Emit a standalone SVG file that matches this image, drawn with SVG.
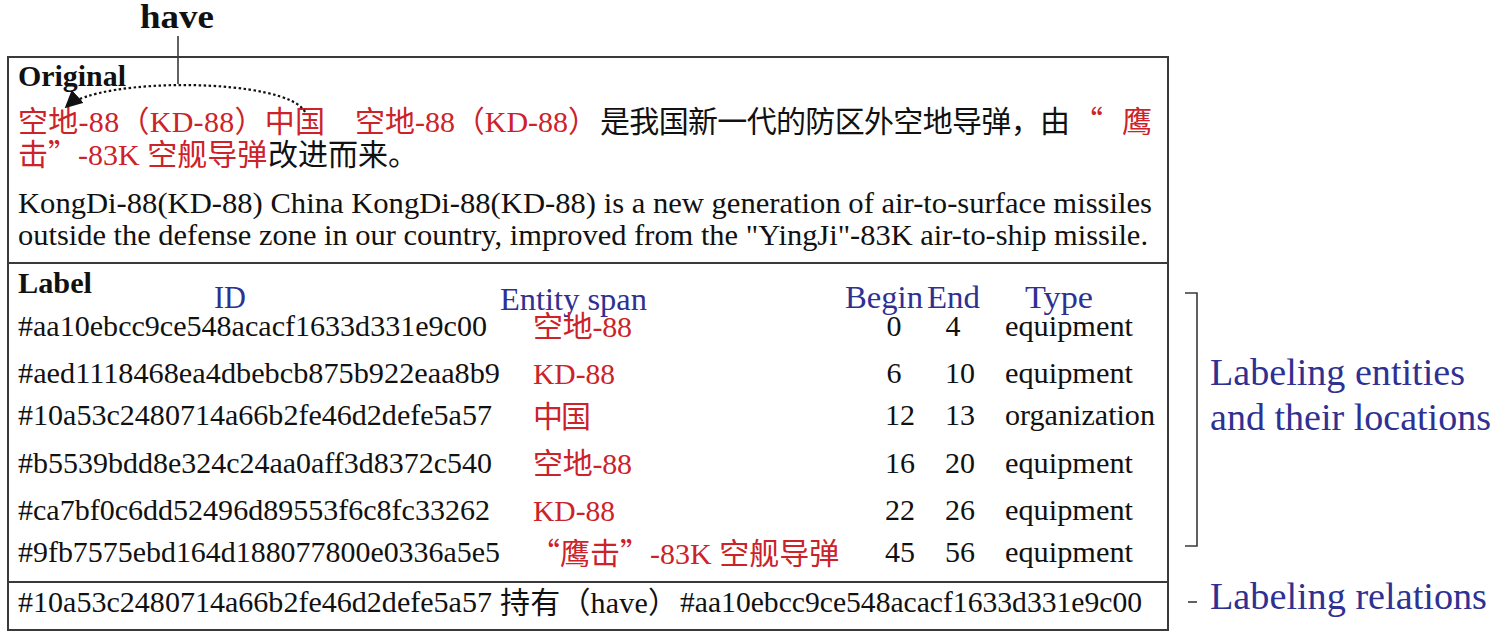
<svg xmlns="http://www.w3.org/2000/svg" width="1496" height="636" viewBox="0 0 1496 636">
<style>
.t{font-family:"Liberation Serif","Noto Sans CJK SC",serif;font-size:30px;fill:#111}
.cj{font-family:"Noto Sans CJK SC",sans-serif}
.h{font-size:32px}
.a{font-size:37px}
.hv{font-size:34px}
.b{font-weight:bold}
.r{fill:#cc2229}
.bl{fill:#2e3192}
.box{fill:#fff;stroke:#3a3a3a;stroke-width:2}
.ln{fill:none;stroke:#3a3a3a;stroke-width:1.6}
</style>
<defs>
<marker id="ah" viewBox="0 0 10 10" refX="9" refY="5" markerWidth="8" markerHeight="8" markerUnits="strokeWidth" orient="auto">
<path d="M0,0 L10,5 L0,10 z" fill="#111"/>
</marker>
</defs>
<rect width="1496" height="636" fill="#fff"/>

<g id="original">
<rect class="box" x="8" y="57" width="1160" height="206"/>
<text class="t b" x="18" y="86" textLength="108" lengthAdjust="spacingAndGlyphs">Original</text>
<text class="t r" x="18" y="132" textLength="307">空地-88（KD-88）中国</text>
<text class="t r" x="355" y="132" textLength="243">空地-88（KD-88）</text>
<text class="t" x="600" y="132" textLength="470">是我国新一代的防区外空地导弹，由</text>
<text class="t r" x="1073" y="132"><tspan class="cj">“</tspan><tspan dx="19">鹰</tspan></text>
<text class="t r" x="18" y="165">击<tspan class="cj">”</tspan>-83K 空舰导弹</text>
<text class="t" x="268" y="165" textLength="150">改进而来。</text>
<text class="t" x="18" y="213" textLength="1134" lengthAdjust="spacingAndGlyphs">KongDi-88(KD-88) China KongDi-88(KD-88) is a new generation of air-to-surface missiles</text>
<text class="t" x="18" y="245" textLength="1130" lengthAdjust="spacingAndGlyphs">outside the defense zone in our country, improved from the "YingJi"-83K air-to-ship missile.</text>
</g>

<g id="label">
<rect class="box" x="8" y="263" width="1160" height="319"/>
<text class="t b" x="18" y="293" textLength="74" lengthAdjust="spacingAndGlyphs">Label</text>
<text class="t h bl" x="214" y="308" textLength="32" lengthAdjust="spacingAndGlyphs">ID</text>
<text class="t h bl" x="500" y="310" textLength="147" lengthAdjust="spacingAndGlyphs">Entity span</text>
<text class="t h bl" x="845" y="308" textLength="78" lengthAdjust="spacingAndGlyphs">Begin</text>
<text class="t h bl" x="927" y="308" textLength="53" lengthAdjust="spacingAndGlyphs">End</text>
<text class="t h bl" x="1025" y="308" textLength="68" lengthAdjust="spacingAndGlyphs">Type</text>

<text class="t" x="18" y="336" textLength="469" lengthAdjust="spacingAndGlyphs">#aa10ebcc9ce548acacf1633d331e9c00</text>
<text class="t r" x="533" y="337" textLength="99">空地-88</text>
<text class="t" x="894" y="336" text-anchor="middle">0</text>
<text class="t" x="953" y="336" text-anchor="middle">4</text>
<text class="t" x="1005" y="336" textLength="128" lengthAdjust="spacingAndGlyphs">equipment</text>

<text class="t" x="18" y="383" textLength="482" lengthAdjust="spacingAndGlyphs">#aed1118468ea4dbebcb875b922eaa8b9</text>
<text class="t r" x="533" y="384" textLength="82" lengthAdjust="spacingAndGlyphs">KD-88</text>
<text class="t" x="894" y="383" text-anchor="middle">6</text>
<text class="t" x="960" y="383" text-anchor="middle">10</text>
<text class="t" x="1005" y="383" textLength="128" lengthAdjust="spacingAndGlyphs">equipment</text>

<text class="t" x="18" y="425" textLength="474" lengthAdjust="spacingAndGlyphs">#10a53c2480714a66b2fe46d2defe5a57</text>
<text class="t r" x="533" y="427" textLength="58">中国</text>
<text class="t" x="900" y="425" text-anchor="middle">12</text>
<text class="t" x="960" y="425" text-anchor="middle">13</text>
<text class="t" x="1005" y="425" textLength="150" lengthAdjust="spacingAndGlyphs">organization</text>

<text class="t" x="18" y="473" textLength="474" lengthAdjust="spacingAndGlyphs">#b5539bdd8e324c24aa0aff3d8372c540</text>
<text class="t r" x="533" y="474" textLength="99">空地-88</text>
<text class="t" x="900" y="473" text-anchor="middle">16</text>
<text class="t" x="960" y="473" text-anchor="middle">20</text>
<text class="t" x="1005" y="473" textLength="128" lengthAdjust="spacingAndGlyphs">equipment</text>

<text class="t" x="18" y="520" textLength="472" lengthAdjust="spacingAndGlyphs">#ca7bf0c6dd52496d89553f6c8fc33262</text>
<text class="t r" x="533" y="521" textLength="82" lengthAdjust="spacingAndGlyphs">KD-88</text>
<text class="t" x="900" y="520" text-anchor="middle">22</text>
<text class="t" x="960" y="520" text-anchor="middle">26</text>
<text class="t" x="1005" y="520" textLength="128" lengthAdjust="spacingAndGlyphs">equipment</text>

<text class="t" x="18" y="562" textLength="482" lengthAdjust="spacingAndGlyphs">#9fb7575ebd164d188077800e0336a5e5</text>
<text class="t r" x="530" y="564"><tspan class="cj">“</tspan>鹰击<tspan class="cj">”</tspan>-83K 空舰导弹</text>
<text class="t" x="900" y="562" text-anchor="middle">45</text>
<text class="t" x="960" y="562" text-anchor="middle">56</text>
<text class="t" x="1005" y="562" textLength="128" lengthAdjust="spacingAndGlyphs">equipment</text>
</g>

<g id="relation">
<rect class="box" x="8" y="582" width="1160" height="48"/>
<text class="t" x="18" y="612" textLength="474" lengthAdjust="spacingAndGlyphs">#10a53c2480714a66b2fe46d2defe5a57</text>
<text class="t" x="500" y="613" textLength="178">持有（have）</text>
<text class="t" x="680" y="612" textLength="462" lengthAdjust="spacingAndGlyphs">#aa10ebcc9ce548acacf1633d331e9c00</text>
</g>

<g id="have-label">
<text class="t hv b" x="140" y="28" textLength="74" lengthAdjust="spacingAndGlyphs">have</text>
</g>

<g id="entities-annotation">
<text class="t a bl" x="1210" y="385" textLength="255" lengthAdjust="spacingAndGlyphs">Labeling entities</text>
<text class="t a bl" x="1210" y="430" textLength="281" lengthAdjust="spacingAndGlyphs">and their locations</text>
</g>

<g id="relations-annotation">
<text class="t a bl" x="1210" y="609" textLength="277" lengthAdjust="spacingAndGlyphs">Labeling relations</text>
</g>

<g id="connectors">
<line class="ln" x1="178" y1="36" x2="178" y2="84"/>
<path d="M305,112 C288,78 100,76 66,107" fill="none" stroke="#111" stroke-width="2.2" stroke-dasharray="2.5 2.5" marker-end="url(#ah)"/>
<polyline class="ln" points="1185,293 1197,293 1197,546 1185,546"/>
<line class="ln" x1="1188" y1="602" x2="1197" y2="602"/>
</g>
</svg>
